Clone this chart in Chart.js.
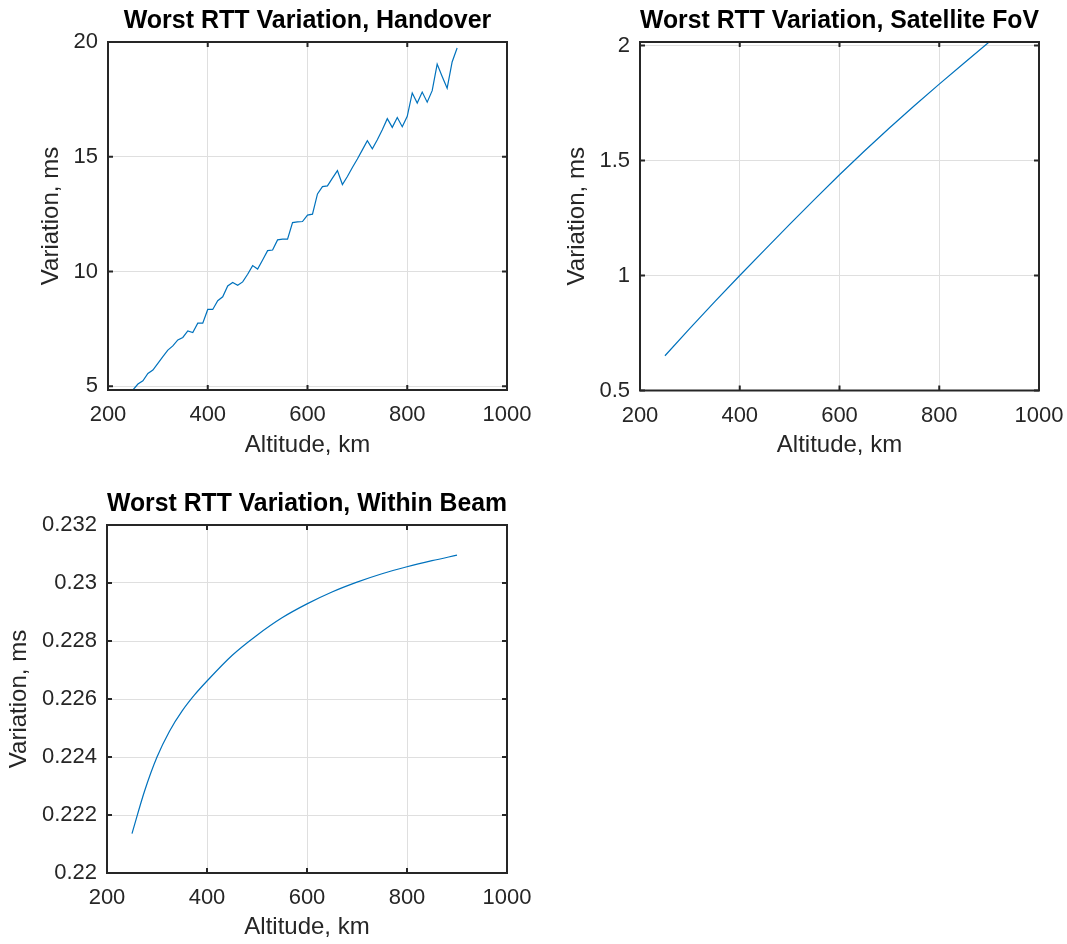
<!DOCTYPE html>
<html>
<head>
<meta charset="utf-8">
<script src="https://cdn.jsdelivr.net/npm/chart.js@4.4.1/dist/chart.umd.min.js"></script>
<style>
  html, body { margin: 0; padding: 0; background: #fff; }
  #wrap { position: relative; width: 1067px; height: 944px; overflow: hidden; }
  canvas { position: absolute; }
</style>
</head>
<body>
<div id="wrap">
  <canvas id="handover" width="547" height="470" style="left:0;top:0"></canvas>
  <canvas id="fov" width="546" height="470" style="left:533px;top:0"></canvas>
  <canvas id="beam" width="547" height="461" style="left:0;top:483px"></canvas>
</div>
<script>
// altitude, km
const altitude = [250, 260, 270, 280, 290, 300, 310, 320, 330, 340, 350, 360, 370, 380, 390,
  400, 410, 420, 430, 440, 450, 460, 470, 480, 490, 500, 510, 520, 530, 540, 550, 560, 570,
  580, 590, 600, 610, 620, 630, 640, 650, 660, 670, 680, 690, 700, 710, 720, 730, 740, 750,
  760, 770, 780, 790, 800, 810, 820, 830, 840, 850, 860, 870, 880, 890, 900];
const handoverMs = [4.84, 5.10, 5.24, 5.56, 5.71, 6.00, 6.29, 6.58, 6.76, 7.02, 7.13, 7.41, 7.34, 7.75, 7.75,
  8.35, 8.35, 8.73, 8.90, 9.37, 9.52, 9.40, 9.55, 9.88, 10.26, 10.11, 10.50, 10.91, 10.94, 11.38, 11.41, 11.41, 12.13,
  12.16, 12.18, 12.46, 12.50, 13.38, 13.70, 13.73, 14.07, 14.40, 13.79, 14.14, 14.53, 14.90, 15.30, 15.70, 15.35, 15.74, 16.18,
  16.66, 16.28, 16.71, 16.31, 16.76, 17.78, 17.34, 17.82, 17.38, 17.88, 19.04, 18.50, 17.99, 19.13, 19.74];

const fovAltitude = [250, 300, 350, 400, 450, 500, 550, 600, 650, 700, 750, 800, 850, 900];
const fovMs = [0.651, 0.770, 0.886, 1.000, 1.111, 1.222, 1.331, 1.438, 1.541, 1.641, 1.738, 1.832, 1.924, 2.015];

const beamAltitude = [250, 275, 300, 325, 350, 375, 400, 450, 500, 550, 600, 650, 700, 750, 800, 850, 900];
const beamMs = [0.22136, 0.22282, 0.22400, 0.22489, 0.22558, 0.22614, 0.22662, 0.22750, 0.22820, 0.22880,
  0.22928, 0.22969, 0.23003, 0.23032, 0.23056, 0.23077, 0.23096];

const altTicks = [200, 400, 600, 800, 1000];
const handoverTicks = [5, 10, 15, 20];
const fovTicks = [0.5, 1, 1.5, 2];
const beamTicks = [0.22, 0.222, 0.224, 0.226, 0.228, 0.23, 0.232];

Chart.defaults.font.family = '"Liberation Sans", Arial, sans-serif';
Chart.defaults.color = '#262626';

const INK = '#262626';

// matlab style box with inward tick marks
const boxPlugin = {
  id: 'box',
  afterDatasetsDraw(chart) {
    const ctx = chart.ctx;
    const a = chart.chartArea;
    const xs = chart.scales.x, ys = chart.scales.y;
    const len = 5;
    ctx.save();
    ctx.strokeStyle = INK;
    ctx.lineWidth = 2;
    ctx.beginPath();
    xs.ticks.forEach(t => {
      const px = xs.getPixelForValue(t.value);
      ctx.moveTo(px, a.bottom); ctx.lineTo(px, a.bottom - len);
      ctx.moveTo(px, a.top); ctx.lineTo(px, a.top + len);
    });
    ys.ticks.forEach(t => {
      const py = ys.getPixelForValue(t.value);
      ctx.moveTo(a.left, py); ctx.lineTo(a.left + len, py);
      ctx.moveTo(a.right, py); ctx.lineTo(a.right - len, py);
    });
    ctx.stroke();
    ctx.strokeRect(a.left, a.top, a.right - a.left, a.bottom - a.top);
    ctx.restore();
  }
};

function makeChart(id, opts) {
  return new Chart(document.getElementById(id), {
    type: 'line',
    data: {
      datasets: [{
        data: opts.x.map((v, i) => ({ x: v, y: opts.y[i] })),
        borderColor: '#0072BD',
        borderWidth: 1.2,
        pointRadius: 0,
        fill: false,
        tension: 0,
        cubicInterpolationMode: opts.smooth ? 'monotone' : 'default'
      }]
    },
    options: {
      responsive: false,
      animation: false,
      layout: { padding: { left: 0, right: 40, top: 0, bottom: 0 } },
      plugins: {
        legend: { display: false },
        tooltip: { enabled: false },
        title: {
          display: true,
          text: opts.title,
          color: '#000',
          fullSize: false,
          font: { size: 25, weight: 'bold' },
          padding: { top: 6, bottom: 6 }
        }
      },
      scales: {
        x: {
          type: 'linear',
          min: 200,
          max: 1000,
          afterBuildTicks: s => { s.ticks = altTicks.map(v => ({ value: v })); },
          afterFit: s => { s.height = opts.xHeight; },
          grid: { color: '#dfdfdf', drawTicks: false },
          border: { display: false },
          ticks: { font: { size: 22 }, padding: 12, maxRotation: 0, callback: v => String(v) },
          title: {
            display: true,
            text: 'Altitude, km',
            font: { size: 24 },
            padding: { top: 0, bottom: opts.xTitlePad }
          }
        },
        y: {
          type: 'linear',
          min: opts.yMin,
          max: opts.yMax,
          afterBuildTicks: s => { s.ticks = opts.yTicks.map(v => ({ value: v })); },
          afterFit: s => { s.width = opts.yWidth; },
          grid: { color: '#dfdfdf', drawTicks: false },
          border: { display: false },
          ticks: {
            font: { size: 22 },
            padding: 10,
            callback: v => String(Number(v.toFixed(4)))
          },
          title: {
            display: true,
            text: 'Variation, ms',
            font: { size: 24 },
            padding: { top: opts.yTitlePad, bottom: 0 }
          }
        }
      }
    },
    plugins: [boxPlugin]
  });
}

makeChart('handover', {
  title: 'Worst RTT Variation, Handover',
  x: altitude, y: handoverMs, yTicks: handoverTicks,
  yMin: 4.84, yMax: 20,
  yWidth: 108, xHeight: 80, xTitlePad: 10, yTitlePad: 37
});

makeChart('fov', {
  title: 'Worst RTT Variation, Satellite FoV',
  x: fovAltitude, y: fovMs, yTicks: fovTicks,
  yMin: 0.5, yMax: 2.015,
  yWidth: 107, xHeight: 79.5, xTitlePad: 10, yTitlePad: 30
});

makeChart('beam', {
  title: 'Worst RTT Variation, Within Beam',
  x: beamAltitude, y: beamMs, yTicks: beamTicks, smooth: true,
  yMin: 0.22, yMax: 0.232,
  yWidth: 107, xHeight: 71, xTitlePad: 2, yTitlePad: 5
});
</script>
</body>
</html>
